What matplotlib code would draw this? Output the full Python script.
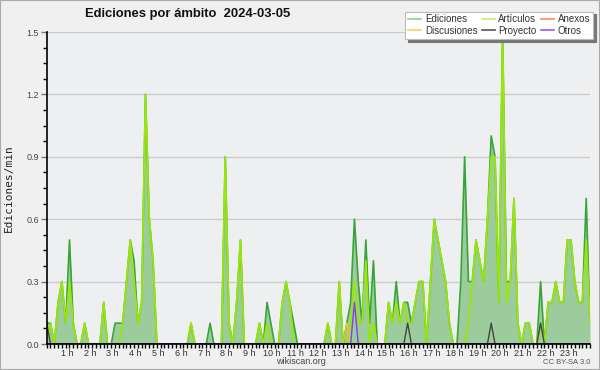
import numpy as np
import matplotlib
matplotlib.use("Agg")
import matplotlib.pyplot as plt
from matplotlib.ticker import MultipleLocator, FixedLocator
import matplotlib.transforms as mtransforms
from matplotlib.patches import Rectangle

title = "Ediciones por ámbito  2024-03-05"
ylabel = "Ediciones/min"
series_names = ["Ediciones", "Discusiones", "Artículos", "Proyecto", "Anexos", "Otros"]
hours = list(range(1, 24))
hour_labels = [f"{h} h" for h in hours]

# one value per 10-minute slot (6 per hour), 144 slots: 0:00 ... 23:50
ediciones = [
    0.1, 0.1, 0.0, 0.2, 0.3, 0.1,   # 0 h
    0.5, 0.1, 0.0, 0.0, 0.1, 0.0,   # 1 h
    0.0, 0.0, 0.0, 0.2, 0.0, 0.0,   # 2 h
    0.1, 0.1, 0.1, 0.3, 0.5, 0.4,   # 3 h
    0.1, 0.2, 1.2, 0.6, 0.4, 0.0,   # 4 h
    0.0, 0.0, 0.0, 0.0, 0.0, 0.0,   # 5 h
    0.0, 0.0, 0.1, 0.0, 0.0, 0.0,   # 6 h
    0.0, 0.1, 0.0, 0.0, 0.0, 0.9,   # 7 h
    0.1, 0.0, 0.2, 0.5, 0.0, 0.0,   # 8 h
    0.0, 0.0, 0.1, 0.0, 0.2, 0.1,   # 9 h
    0.0, 0.0, 0.2, 0.3, 0.2, 0.1,   # 10 h
    0.0, 0.0, 0.0, 0.0, 0.0, 0.0,   # 11 h
    0.0, 0.0, 0.1, 0.0, 0.0, 0.3,   # 12 h
    0.0, 0.1, 0.2, 0.6, 0.3, 0.1,   # 13 h
    0.5, 0.1, 0.4, 0.0, 0.0, 0.0,   # 14 h
    0.2, 0.1, 0.3, 0.1, 0.2, 0.2,   # 15 h
    0.1, 0.2, 0.3, 0.3, 0.0, 0.3,   # 16 h
    0.6, 0.5, 0.4, 0.3, 0.1, 0.0,   # 17 h
    0.0, 0.3, 0.9, 0.3, 0.3, 0.5,   # 18 h
    0.4, 0.3, 0.6, 1.0, 0.9, 0.2,   # 19 h
    1.5, 0.3, 0.3, 0.7, 0.1, 0.0,   # 20 h
    0.1, 0.1, 0.0, 0.0, 0.3, 0.0,   # 21 h
    0.2, 0.2, 0.3, 0.2, 0.2, 0.5,   # 22 h
    0.5, 0.3, 0.2, 0.2, 0.7, 0.1,   # 23 h
]
articulos = [
    0.0, 0.1, 0.0, 0.2, 0.3, 0.1,
    0.3, 0.1, 0.0, 0.0, 0.1, 0.0,
    0.0, 0.0, 0.0, 0.2, 0.0, 0.0,
    0.0, 0.0, 0.1, 0.3, 0.5, 0.3,
    0.1, 0.2, 1.2, 0.6, 0.4, 0.0,
    0.0, 0.0, 0.0, 0.0, 0.0, 0.0,
    0.0, 0.0, 0.1, 0.0, 0.0, 0.0,
    0.0, 0.0, 0.0, 0.0, 0.0, 0.9,
    0.1, 0.0, 0.2, 0.5, 0.0, 0.0,
    0.0, 0.0, 0.1, 0.0, 0.1, 0.0,
    0.0, 0.0, 0.2, 0.3, 0.2, 0.0,
    0.0, 0.0, 0.0, 0.0, 0.0, 0.0,
    0.0, 0.0, 0.1, 0.0, 0.0, 0.3,
    0.0, 0.0, 0.1, 0.3, 0.1, 0.1,
    0.4, 0.0, 0.1, 0.0, 0.0, 0.0,
    0.2, 0.1, 0.2, 0.1, 0.2, 0.1,
    0.1, 0.2, 0.3, 0.3, 0.0, 0.3,
    0.6, 0.5, 0.4, 0.3, 0.1, 0.0,
    0.0, 0.0, 0.0, 0.1, 0.3, 0.5,
    0.4, 0.3, 0.6, 0.9, 0.9, 0.2,
    1.5, 0.2, 0.3, 0.7, 0.1, 0.0,
    0.1, 0.1, 0.0, 0.0, 0.1, 0.0,
    0.2, 0.2, 0.3, 0.2, 0.2, 0.5,
    0.5, 0.3, 0.2, 0.2, 0.5, 0.1,
]
anexos = [0.0] * 144
discusiones = [0.0] * 79 + [0.1] + [0.0] * 64
proyecto = [0.1] + [0.0] * 94 + [0.1] + [0.0] * 21 + [0.1] + [0.0] * 12 + [0.1] + [0.0] * 13
otros = [0.0] * 81 + [0.2] + [0.0] * 62

colors = {
    "Ediciones": "#37a537",
    "Artículos": "#9be60a",
    "Anexos": "#ff7744",
    "Discusiones": "#f2c230",
    "Proyecto": "#444444",
    "Otros": "#8a3cf0",
}
legend_colors = {
    "Ediciones": "#8fd08f",
    "Artículos": "#c8ee70",
    "Anexos": "#ff8855",
    "Discusiones": "#ffd060",
    "Proyecto": "#555555",
    "Otros": "#9955ff",
}

SANS = ["Liberation Sans", "DejaVu Sans"]

n = len(ediciones)
x = np.arange(n) / 6.0          # hours

fig = plt.figure(figsize=(6.0, 3.7), dpi=100)
fig.patch.set_facecolor("#f0f0f0")
ax = fig.add_axes([46.7 / 600, 1 - 344 / 370, (590 - 46.7) / 600, (344 - 32) / 370])
ax.set_facecolor("#eeeff1")

ax.fill_between(x, 0, ediciones, color="#9ccb9c", lw=0, zorder=2)
ax.plot(x, ediciones, color=colors["Ediciones"], lw=1.2, zorder=3)
ax.plot(x, articulos, color=colors["Artículos"], lw=1.3, zorder=4)
ax.plot(x, anexos, color=colors["Anexos"], lw=1.0, zorder=4)
ax.plot(x, discusiones, color=colors["Discusiones"], lw=1.0, zorder=5)
ax.plot(x, proyecto, color=colors["Proyecto"], lw=1.0, zorder=5)
ax.plot(x, otros, color=colors["Otros"], lw=1.0, zorder=5)

ax.set_xlim(x[0], x[-1])
ax.set_ylim(0, 1.5)

for s in ["top", "right"]:
    ax.spines[s].set_visible(False)
for s in ["left", "bottom"]:
    ax.spines[s].set_color("black")
    ax.spines[s].set_linewidth(1.2)
    ax.spines[s].set_zorder(6)

ax.yaxis.set_major_locator(MultipleLocator(0.3))
ax.yaxis.set_minor_locator(MultipleLocator(0.075))
ax.yaxis.set_major_formatter(matplotlib.ticker.FormatStrFormatter("%.1f"))
ax.grid(axis="y", which="major", color="#cccccc", lw=1.0, zorder=1)
ax.tick_params(axis="y", which="major", length=4, width=1, color="#777777",
               labelsize=6.5, labelcolor="#444444", pad=1.5)
ax.tick_params(axis="y", which="minor", length=3, width=1, color="black")

ax.xaxis.set_major_locator(FixedLocator(hours))
ax.set_xticklabels(hour_labels)
ax.xaxis.set_minor_locator(MultipleLocator(1 / 6))
ax.tick_params(axis="x", which="both", length=3, width=1, color="black",
               labelsize=6.5, labelcolor="#333333", pad=0.5)
offset = mtransforms.ScaledTranslation(-2.5 / 100, 0, fig.dpi_scale_trans)
for lab in ax.get_xticklabels():
    lab.set_transform(lab.get_transform() + offset)
    lab.set_family(SANS)
for lab in ax.get_yticklabels():
    lab.set_family(SANS)

ax.set_ylabel(ylabel, fontsize=8, family="DejaVu Sans Mono", color="#222222")
ax.yaxis.set_label_coords(-0.06, 0.5)

fig.text(85 / 600, 1 - 14 / 370, title, fontsize=9.4, fontweight="bold",
         family=SANS, ha="left", va="center", color="#111111")
fig.text(301 / 600, 1 - 361 / 370, "wikiscan.org", fontsize=6.5, ha="center",
         family=SANS, va="center", color="#444444")
fig.text(590 / 600, 1 - 362 / 370, "CC BY-SA 3.0", fontsize=5.5, ha="right",
         family=SANS, va="center", color="#555555")

handles = [plt.Line2D([], [], color=legend_colors[nm], lw=1.2) for nm in series_names]
leg = fig.legend(handles, series_names, ncol=3, loc="upper right",
                 bbox_to_anchor=(593 / 600, 1 - 11.5 / 370),
                 prop={"family": SANS, "size": 7.0},
                 frameon=True, fancybox=False, shadow={"color": "#777777", "alpha": 1},
                 handlelength=1.3, handletextpad=0.4, columnspacing=0.45,
                 labelspacing=0.15, borderpad=0.3, borderaxespad=0)
leg.get_frame().set_edgecolor("#bbbbbb")
leg.get_frame().set_facecolor("white")
leg.get_frame().set_linewidth(0.8)
for t in leg.get_texts():
    t.set_color("#333333")

fig.patches.append(Rectangle((0, 0), 1, 1, transform=fig.transFigure, fill=False,
                             edgecolor="#aaaaaa", lw=1.5))

fig.savefig("out.png", dpi=100, facecolor=fig.get_facecolor())
